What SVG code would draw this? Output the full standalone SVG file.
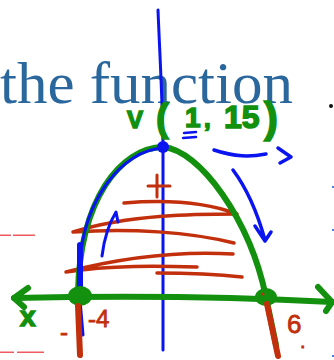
<svg xmlns="http://www.w3.org/2000/svg" width="334" height="360" viewBox="0 0 334 360">
<style>
.g{fill:none;stroke:#12900e;stroke-linecap:round;stroke-linejoin:round}
.b{fill:none;stroke:#0a14f0;stroke-linecap:round;stroke-linejoin:round}
.r{fill:none;stroke:#c22f0c;stroke-linecap:round;stroke-linejoin:round}
.gt{fill:#12900e;stroke:#12900e;stroke-width:1.5;font-family:"Liberation Sans",Arial,sans-serif;font-weight:bold}
.rt{fill:#c22f0c;stroke:#c22f0c;stroke-width:0.8;font-family:"Liberation Sans",Arial,sans-serif}
</style>
<rect width="334" height="360" fill="#ffffff"/>
<g id="title">
<text x="0" y="103" font-family="'Liberation Serif',serif" font-size="60" fill="#2a679c" textLength="293" lengthAdjust="spacingAndGlyphs">the function</text>
</g>
<g id="marks">
<circle cx="331" cy="106" r="2" fill="#111"/>
<rect x="0" y="234.5" width="11" height="1.5" fill="#e8323a" opacity="0.8"/>
<rect x="13" y="234.5" width="22" height="1.5" fill="#e8323a" opacity="0.8"/>
<rect x="0" y="351.5" width="14" height="1.5" fill="#e8323a" opacity="0.8"/>
<rect x="17" y="351.5" width="27" height="1.5" fill="#e8323a" opacity="0.8"/>
<rect x="332" y="186" width="2" height="2" fill="#4a7fe0"/>
<rect x="332" y="229" width="2" height="2" fill="#4a7fe0"/>
<rect x="332" y="355" width="2" height="2" fill="#4a7fe0"/>
</g>
<g id="y-axis">
<path class="b" stroke-width="3" d="M158 10 C160 60 163 110 163 150 L163 350"/>
</g>
<g id="red-shading">
<path class="r" stroke-width="3" d="M157 175 L157 197 M148 186 L170 186"/>
<path class="r" stroke-width="3.5" d="M124 203 C160 200 200 200 237 214 C200 214 130 214 73 232 C130 228 190 232 234 243"/>
<path class="r" stroke-width="3.5" d="M233 254 C180 251 120 258 66 272 C110 265 160 266 197 267"/>
<path class="r" stroke-width="3.5" d="M157 273 C190 273 215 274 242 277"/>
</g>
<g id="parabola">
<path class="g" stroke-width="6" d="M78 292 C80 200 120 148 163 147 C200 150 250 220 266 297 L276 345"/>
<path class="b" stroke-width="3" d="M163 148 C122 150 84 200 80 262"/>
<path class="b" stroke-width="6" d="M80 245 L80 300"/>
<path class="b" stroke-width="3" d="M80 300 L83 335"/>
<circle cx="163" cy="147" r="6" fill="#0a14f0"/>
</g>
<g id="x-axis">
<path class="g" stroke-width="6" d="M14 298 C100 296 220 296 332 302"/>
<path class="g" stroke-width="6" d="M28 288 L14 298 L24 307"/>
<path class="g" stroke-width="6" d="M318 287 L332 302 L326 311"/>
<ellipse cx="80" cy="296" rx="12" ry="10" fill="#12900e"/>
<ellipse cx="266" cy="297" rx="11" ry="9" fill="#12900e"/>
<circle cx="263" cy="294" r="1.5" fill="#c22f0c"/>
</g>
<g id="red-roots">
<path class="r" stroke-width="6" d="M78 306 L80 355"/>
<path class="r" stroke-width="6" d="M267 304 L278 356"/>
</g>
<g id="blue-arrows">
<path class="b" stroke-width="3.5" d="M214 150 C235 157 250 157 266 154 M278 148 L291 157 L280 163"/>
<path class="b" stroke-width="3.5" d="M233 170 C248 190 258 215 265 240 M255 226 L265 241 L271 232"/>
<path class="b" stroke-width="3" d="M102 256 C104 240 108 225 116 212 L118 222"/>
<path class="b" stroke-width="2.5" d="M184 133 L196 132 M183 138 L196 137"/>
</g>
<g id="vertex-label">
<text class="gt" x="127" y="128" font-size="24">V</text>
<text class="gt" x="156" y="131" font-size="38">(</text>
<text class="gt" x="185" y="127" font-size="28">1</text>
<text class="gt" x="204" y="127" font-size="24">,</text>
<text class="gt" x="224" y="128" font-size="32">15</text>
<text class="gt" x="264" y="132" font-size="42">)</text>
</g>
<g id="labels">
<text class="gt" x="20" y="326" font-size="28">x</text>
<text class="rt" x="88" y="327" font-size="24">-4</text>
<text class="rt" x="60" y="340" font-size="24">-</text>
<text class="rt" x="287" y="333" font-size="26">6</text>
<text class="rt" x="300" y="348" font-size="20">.</text>
</g>
</svg>
